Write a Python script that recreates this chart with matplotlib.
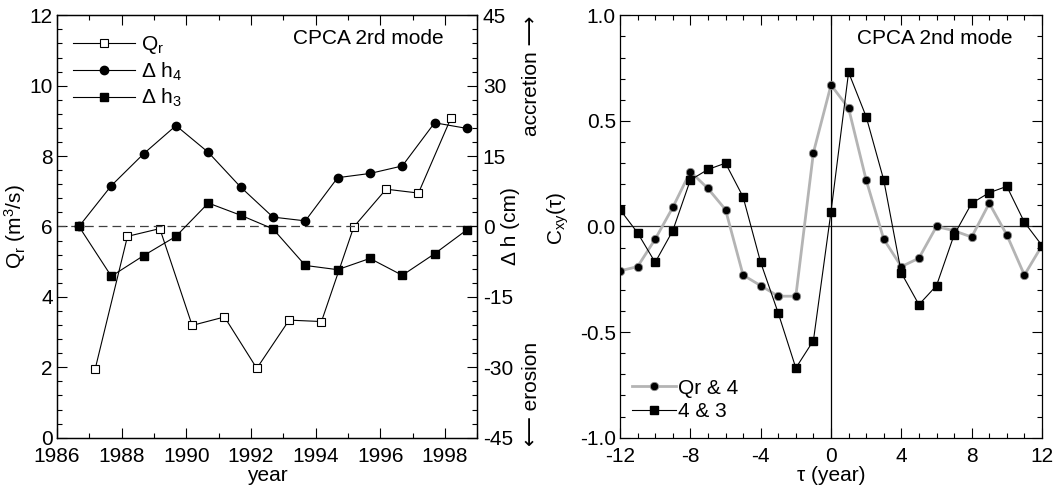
import numpy as np
import matplotlib
matplotlib.use("Agg")
import matplotlib.pyplot as plt
from matplotlib.ticker import MultipleLocator, FormatStrFormatter

plt.rcParams["font.family"] = ["Liberation Sans", "DejaVu Sans"]
plt.rcParams["mathtext.fontset"] = "custom"
plt.rcParams["mathtext.rm"] = "Liberation Sans"
plt.rcParams["mathtext.it"] = "Liberation Sans:italic"
plt.rcParams["font.size"] = 15
plt.rcParams["axes.unicode_minus"] = False
plt.rcParams["axes.linewidth"] = 0.9

# Left panel: river discharge and bed level change (CPCA 2nd mode)
qr_years = np.arange(1987, 1999) + 0.18
qr_vals = [1.95, 5.72, 5.94, 3.19, 3.43, 1.97, 3.34, 3.30, 5.99, 7.06, 6.95, 9.07]

dh_years = np.arange(1986, 1999) + 0.68
dh4_vals = [0.0, 8.7, 15.5, 21.5, 15.8, 8.4, 2.0, 1.2, 10.4, 11.3, 12.9, 22.1, 20.9]
dh3_vals = [0.0, -10.6, -6.2, -2.1, 5.0, 2.4, -0.5, -8.3, -9.2, -6.8, -10.4, -5.8, -0.7]

# Right panel: cross-correlation vs lag
lags = np.arange(-12, 13)
c_qr4 = [-0.21, -0.19, -0.06, 0.09, 0.26, 0.18, 0.08, -0.23, -0.28, -0.33, -0.33, 0.35,
         0.67, 0.56, 0.22, -0.06, -0.19, -0.15, 0.00, -0.02, -0.05, 0.11, -0.04, -0.23, -0.09]
c_43 = [0.08, -0.03, -0.17, -0.02, 0.22, 0.27, 0.30, 0.14, -0.17, -0.41, -0.67, -0.54,
        0.07, 0.73, 0.52, 0.22, -0.22, -0.37, -0.28, -0.04, 0.11, 0.16, 0.19, 0.02, -0.09]

W, H = 1054, 488
fig = plt.figure(figsize=(W / 100, H / 100), dpi=100)

# ---------------- left panel ----------------
ax = fig.add_axes([57 / W, 1 - 437.7 / H, 420.3 / W, 422.4 / H])
ax2 = ax.twinx()

l_qr, = ax.plot(qr_years, qr_vals, "-", color="black", lw=0.8, marker="s",
                ms=5.5, mfc="white", mec="black", mew=0.8, label="Q$_\\mathrm{r}$")
ax2.axhline(0, color="#404040", lw=0.9, dashes=(7, 4), zorder=1)
l_h4, = ax2.plot(dh_years, dh4_vals, "-", color="black", lw=0.8, marker="o",
                 ms=6, label="Δ h$_4$")
l_h3, = ax2.plot(dh_years, dh3_vals, "-", color="black", lw=0.8, marker="s",
                 ms=6, label="Δ h$_3$")

ax.set_xlim(1986, 1999)
ax.set_ylim(0, 12)
ax2.set_ylim(-45, 45)
ax.xaxis.set_major_locator(MultipleLocator(2))
ax.xaxis.set_minor_locator(MultipleLocator(1))
ax.yaxis.set_major_locator(MultipleLocator(2))
ax.yaxis.set_minor_locator(MultipleLocator(0.4))
ax2.yaxis.set_major_locator(MultipleLocator(15))
ax2.yaxis.set_minor_locator(MultipleLocator(3))

ax.tick_params(which="both", direction="in", top=True, right=False, width=0.8)
ax.tick_params(which="major", length=7)
ax.tick_params(which="minor", length=3.5)
ax.tick_params(axis="x", pad=6.5)
ax.tick_params(axis="y", pad=3)
ax2.tick_params(which="both", direction="in", width=0.8, pad=4)
ax2.tick_params(which="major", length=7)
ax2.tick_params(which="minor", length=3.5)

ax.set_xlabel("year")
ax.xaxis.set_label_coords(0.5, -0.068)
ax.set_ylabel("Q$_\\mathrm{r}$ (m$^3$/s)")
ax.yaxis.set_label_coords(-0.07, 0.5)
ax2.set_ylabel("Δ h (cm)")
ax2.yaxis.set_label_coords(1.056, 0.5)

ax.text(0.919, 0.944, "CPCA 2rd mode", transform=ax.transAxes, ha="right", va="center")
ax.text(1.128, 1.0, "accretion ⟶", transform=ax.transAxes, rotation=90,
        ha="center", va="top")
ax.text(1.128, -0.02, "⟵ erosion", transform=ax.transAxes, rotation=90,
        ha="center", va="bottom")

ax2.legend(handles=[l_qr, l_h4, l_h3], loc="upper left", frameon=False,
           bbox_to_anchor=(0.038, 0.955), borderpad=0, borderaxespad=0,
           handlelength=3.0, handletextpad=0.25, labelspacing=0.2)

# ---------------- right panel ----------------
bx = fig.add_axes([620 / W, 1 - 437.7 / H, 422 / W, 422.4 / H])
bx.axhline(0, color="#303030", lw=0.9, zorder=1)
bx.axvline(0, color="black", lw=0.9, zorder=1)
bx.plot(lags, c_qr4, "-", color="#b4b4b4", lw=2.0, marker="o", ms=6,
        mfc="black", mec="#909090", mew=0.6, label="Qr & 4", zorder=2)
bx.plot(lags, c_43, "-", color="black", lw=0.8, marker="s", ms=6,
        label="4 & 3", zorder=3)

bx.set_xlim(-12, 12)
bx.set_ylim(-1, 1)
bx.xaxis.set_major_locator(MultipleLocator(4))
bx.xaxis.set_minor_locator(MultipleLocator(1))
bx.yaxis.set_major_locator(MultipleLocator(0.5))
bx.yaxis.set_minor_locator(MultipleLocator(0.1))
bx.yaxis.set_major_formatter(FormatStrFormatter("%.1f"))
bx.tick_params(which="both", direction="in", top=True, right=True, width=0.8)
bx.tick_params(which="major", length=7)
bx.tick_params(which="minor", length=3.5)
bx.tick_params(axis="x", pad=6.5)
bx.tick_params(axis="y", pad=3)

bx.set_xlabel("τ (year)")
bx.xaxis.set_label_coords(0.5, -0.068)
bx.set_ylabel("C$_\\mathrm{xy}$(τ)")
bx.yaxis.set_label_coords(-0.116, 0.52)

bx.text(0.931, 0.944, "CPCA 2nd mode", transform=bx.transAxes, ha="right", va="center")
bx.legend(loc="lower left", frameon=False, bbox_to_anchor=(0.028, 0.04),
          borderpad=0, borderaxespad=0, handlelength=2.1, handletextpad=0.1,
          labelspacing=0.2)

fig.savefig("out.png", dpi=100)
